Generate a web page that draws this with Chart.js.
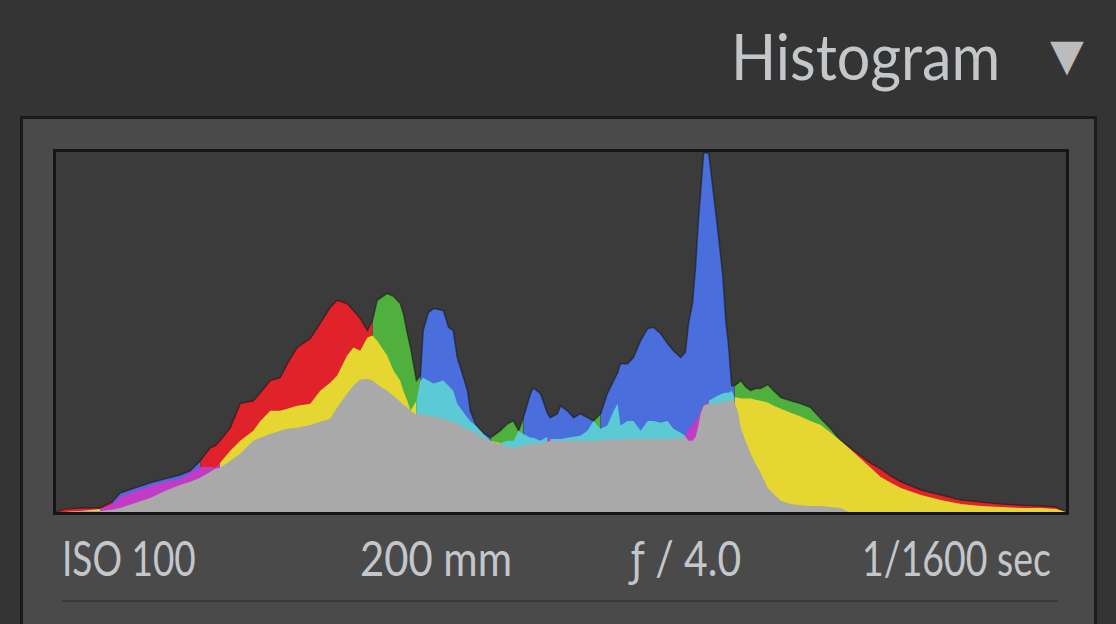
<!DOCTYPE html>
<html>
<head>
<meta charset="utf-8">
<script src="https://cdn.jsdelivr.net/npm/chart.js@4.4.1/dist/chart.umd.min.js"></script>
<style>
  html, body { margin: 0; padding: 0; }
  body {
    width: 1116px; height: 624px; overflow: hidden; position: relative;
    background: #343434; font-family: Lato, "Open Sans", sans-serif;
  }
  .label { position: absolute; line-height: 1; color: #c4c7ca; white-space: nowrap; transform-origin: left top; }
  #title { left: 731px; top: 24px; font-size: 63px; transform: scaleX(0.94); }
  #arrow { position: absolute; left: 1050px; top: 33px; font-family: "DejaVu Sans"; font-size: 44px; line-height: 1; color: #bcbcbc; }
  #panel {
    position: absolute; left: 20px; top: 116px; width: 1077px; height: 540px;
    box-sizing: border-box; border: 3px solid #1b1b1b; background: #4a4a4a;
  }
  #frame {
    position: absolute; left: 53px; top: 149px; width: 1016px; height: 366px;
    box-sizing: border-box; border: 3px solid #151515; background: #3b3b3b;
  }
  #frame canvas { display: block; }
  .info { top: 534px; font-size: 48px; }
  #rule { position: absolute; left: 62px; top: 600px; width: 996px; height: 2px; background: #3a3a3a; }
</style>
</head>
<body>
<div class="label" id="title">Histogram</div>
<div id="arrow">▼</div>
<div id="panel"></div>
<div id="frame"><canvas id="histChart" width="1010" height="360"></canvas></div>
<div class="label info" style="left:62px; transform: scaleX(0.77)">ISO 100</div>
<div class="label info" style="left:360px; transform: scaleX(0.87)">200 mm</div>
<div class="label info" style="left:631px; transform: scaleX(0.85)">ƒ / 4.0</div>
<div class="label info" style="left:862px; transform: scaleX(0.78)">1/1600 sec</div>
<div id="rule"></div>
<script>
// tone levels (0-255) where the channel counts were read
const tones = [
  0, 2.3, 6.1, 11.1, 14.2, 16.2, 20.0, 23.8, 27.5, 31.3,
  33.9, 36.4, 38.9, 40.2, 41.4, 44.0, 46.5, 49.8, 51.6, 54.1,
  56.6, 58.4, 60.9, 64.2, 66.7, 69.2, 71.0, 73.5, 75.1, 76.8,
  78.6, 79.9, 81.1, 83.6, 85.2, 86.9, 87.7, 88.7, 89.5, 91.0,
  92.0, 92.7, 94.0, 95.3, 97.8, 99.1, 100.3, 101.3, 102.6, 103.9,
  104.6, 105.9, 107.2, 107.9, 109.7, 112.2, 114.0, 115.5, 116.8, 118.0,
  119.8, 120.5, 122.3, 124.1, 124.8, 126.6, 127.4, 129.1, 130.7, 132.4,
  134.2, 135.7, 137.5, 139.2, 140.8, 141.8, 142.5, 144.3, 145.8, 147.6,
  149.4, 150.9, 152.6, 154.4, 155.9, 157.7, 158.9, 159.7, 160.7, 161.5,
  162.2, 162.8, 163.5, 164.8, 165.8, 167.0, 168.3, 169.1, 169.8, 170.6,
  171.3, 172.1, 172.9, 174.1, 175.4, 176.6, 177.9, 179.7, 181.2, 183.0,
  185.5, 188.0, 190.5, 193.1, 195.6, 198.1, 200.2, 203.2, 205.7, 208.2,
  210.8, 213.3, 218.4, 223.4, 228.5, 233.5, 238.6, 243.6, 248.7, 252.5,
  255
];

// per-channel counts, % of the tallest bin
const red = [
  0, 0.8, 1.1, 1.1, 2.2, 4.2, 5.8, 7.2, 8.4, 9.2,
  10.9, 14.2, 17.8, 18.4, 19.8, 23.4, 30.1, 30.9, 33.1, 36.5,
  37.3, 41.2, 45.7, 48.2, 52.4, 56.8, 58.8, 57.9, 56.0, 53.8,
  50.4, 49.0, 47.6, 43.5, 39.3, 36.5, 33.7, 30.9, 28.1, 27.0,
  27.3, 27.0, 26.7, 26.5, 25.9, 25.3, 25.1, 24.5, 23.7, 23.1,
  22.6, 22.0, 21.2, 20.6, 19.8, 18.9, 18.1, 17.8, 18.1, 18.4,
  18.9, 18.9, 19.2, 20.9, 19.8, 19.8, 19.8, 19.8, 19.8, 19.8,
  19.8, 19.8, 19.8, 20.1, 20.1, 20.1, 20.1, 20.3, 20.3, 20.3,
  20.3, 20.3, 20.3, 20.3, 20.3, 20.6, 21.2, 23.1, 24.2, 25.3,
  26.7, 28.1, 29.5, 30.1, 30.1, 30.1, 30.4, 30.6, 30.9, 31.2,
  31.8, 31.8, 31.5, 31.5, 31.5, 31.2, 30.9, 30.4, 29.5, 28.7,
  27.6, 26.5, 25.3, 24.2, 22.0, 19.8, 18.1, 15.6, 13.6, 12.0,
  10.0, 8.4, 6.1, 4.7, 3.3, 2.8, 2.2, 1.9, 1.7, 1.4,
  0
];
const green = [
  0, 0, 0.3, 0.3, 0.6, 1.1, 2.5, 3.9, 5.8, 7.5,
  8.4, 9.5, 11.1, 12.0, 13.6, 17.0, 19.8, 22.6, 25.3, 28.1,
  28.1, 28.7, 29.5, 30.1, 33.7, 35.9, 37.9, 43.5, 45.7, 44.8,
  48.5, 53.2, 58.8, 60.7, 59.9, 57.9, 55.2, 49.6, 45.7, 36.5,
  36.5, 37.3, 36.5, 35.7, 36.5, 35.1, 33.7, 30.1, 28.1, 26.2,
  25.3, 24.0, 22.6, 21.7, 20.6, 22.6, 24.5, 25.3, 22.6, 21.7,
  20.6, 20.6, 19.8, 19.5, 20.3, 20.3, 20.3, 20.6, 20.9, 21.2,
  22.6, 25.3, 23.1, 24.0, 28.1, 30.1, 24.0, 25.3, 25.3, 22.6,
  25.3, 25.3, 24.8, 25.3, 23.1, 22.0, 20.9, 19.8, 19.8, 20.9,
  24.0, 27.6, 29.5, 30.9, 31.5, 32.3, 32.9, 33.1, 33.1, 33.7,
  35.1, 35.7, 36.5, 34.8, 33.7, 34.3, 34.3, 35.4, 33.7, 31.8,
  30.9, 30.1, 29.0, 25.9, 23.1, 19.8, 17.8, 14.8, 12.3, 9.7,
  8.1, 6.7, 4.7, 3.3, 2.2, 1.7, 1.4, 1.1, 1.1, 0.8,
  0
];
const blue = [
  0, 0, 0.3, 0.8, 2.8, 5.3, 6.7, 8.1, 9.2, 10.3,
  11.4, 12.5, 12.5, 12.3, 12.3, 14.2, 16.2, 19.8, 20.6, 21.7,
  22.6, 23.1, 23.4, 24.2, 25.1, 25.9, 29.0, 32.9, 35.1, 36.8,
  37.0, 36.5, 35.4, 33.7, 32.3, 30.6, 29.8, 29.0, 28.1, 30.9,
  37.9, 50.4, 55.4, 56.5, 56.0, 51.3, 50.4, 42.9, 38.4, 33.7,
  28.1, 24.5, 22.6, 22.0, 19.8, 19.2, 19.8, 19.8, 22.6, 26.2,
  32.9, 34.5, 32.9, 27.3, 26.2, 27.3, 29.5, 28.1, 26.2, 27.3,
  26.2, 25.3, 27.3, 32.9, 36.5, 38.7, 41.2, 41.2, 42.9, 47.6,
  51.0, 51.3, 49.6, 46.8, 44.8, 42.9, 44.3, 52.4, 57.9, 68.5,
  81.1, 89.4, 99.7, 99.7, 90.3, 79.1, 66.3, 53.2, 46.2, 35.1,
  30.4, 28.1, 23.4, 19.8, 16.2, 13.4, 10.9, 6.7, 5.0, 3.1,
  2.2, 1.9, 1.7, 1.7, 1.4, 1.1, 0, 0, 0, 0,
  0, 0, 0, 0, 0, 0, 0, 0, 0, 0,
  0
];

const channelColors = ['#e0222b', '#4fb03d', '#4a6edb'];  // R, G, B alone
const pairColors = { '0,1': '#e5d631', '1,2': '#5ccad4', '0,2': '#c23bc6' };
const sharedColor = '#a9a9a9';

// split the three channels into the stacked overlap layers Lightroom paints
const lowest = [], middle = [], highest = [], midColors = [], topColors = [];
tones.forEach((t, i) => {
  const vals = [red[i], green[i], blue[i]];
  const order = [0, 1, 2].sort((a, b) => vals[b] - vals[a]);
  highest.push({ x: t, y: vals[order[0]] });
  middle.push({ x: t, y: vals[order[1]] });
  lowest.push({ x: t, y: vals[order[2]] });
  topColors.push(channelColors[order[0]]);
  midColors.push(pairColors[[order[0], order[1]].sort().join(',')]);
});

const ctx = document.getElementById('histChart').getContext('2d');
new Chart(ctx, {
  type: 'line',
  data: {
    datasets: [
      {
        label: 'All channels',
        data: lowest,
        backgroundColor: sharedColor,
        borderWidth: 0,
        fill: 'origin'
      },
      {
        label: 'Two channels',
        data: middle,
        backgroundColor: midColors[0],
        borderWidth: 0,
        fill: 'origin',
        segment: { backgroundColor: c => midColors[c.p0DataIndex] }
      },
      {
        label: 'One channel',
        data: highest,
        backgroundColor: topColors[0],
        borderColor: 'rgba(22,22,22,0.55)',
        borderWidth: 1.5,
        fill: 'origin',
        segment: { backgroundColor: c => topColors[c.p0DataIndex] }
      }
    ]
  },
  options: {
    responsive: false,
    animation: false,
    layout: { padding: 0 },
    elements: { point: { radius: 0 }, line: { tension: 0 } },
    plugins: { legend: { display: false }, tooltip: { enabled: false } },
    scales: {
      x: { type: 'linear', min: 0, max: 255, display: false },
      y: { min: 0, max: 100, display: false }
    }
  }
});
</script>
</body>
</html>
